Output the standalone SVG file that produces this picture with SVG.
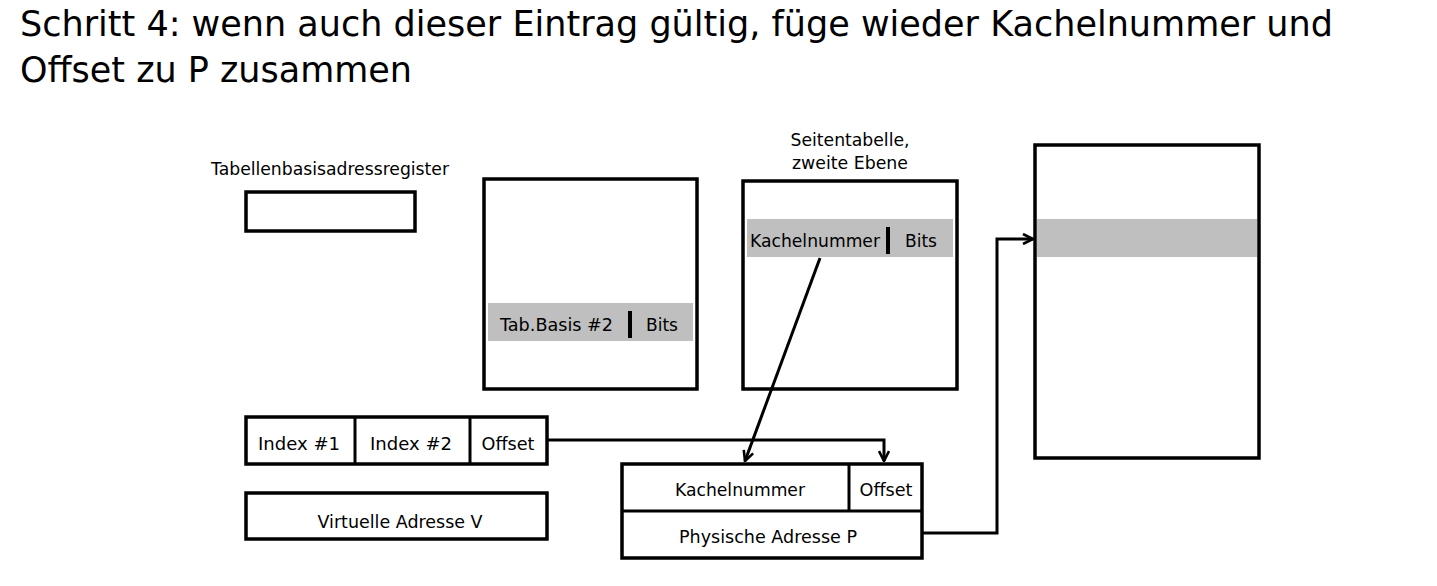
<svg xmlns="http://www.w3.org/2000/svg" width="1437" height="586" viewBox="0 0 1437 586">
<defs>
<marker id="arr" viewBox="0 0 12 12" refX="11" refY="6" markerWidth="12" markerHeight="12" markerUnits="userSpaceOnUse" orient="auto">
<path d="M1,1 L11,6 L1,11" fill="none" stroke="#000" stroke-width="2.6"/>
</marker>
<style>
.box{fill:#fff;stroke:#000;stroke-width:3.5}
.band{fill:#bfbfbf}
.t{font-family:"DejaVu Sans","Liberation Sans",sans-serif;font-size:18px;fill:#000}
.m{text-anchor:middle}
.title{font-family:"DejaVu Sans","Liberation Sans",sans-serif;font-size:36px;fill:#000}
.ln{fill:none;stroke:#000;stroke-width:3}
</style>
</defs>
<rect width="1437" height="586" fill="#fff"/>
<g id="title">
<text class="title" x="20" y="36" textLength="1313" lengthAdjust="spacingAndGlyphs">Schritt 4: wenn auch dieser Eintrag gültig, füge wieder Kachelnummer und</text>
<text class="title" x="20" y="82" textLength="392" lengthAdjust="spacingAndGlyphs">Offset zu P zusammen</text>
</g>
<g id="register">
<text class="t m" x="330" y="175" textLength="238" lengthAdjust="spacingAndGlyphs">Tabellenbasisadressregister</text>
<rect class="box" x="246" y="192" width="169" height="39"/>
</g>
<g id="table1">
<rect class="box" x="484" y="179" width="213" height="210"/>
<rect class="band" x="488" y="303" width="205" height="38"/>
<text class="t" x="500" y="331" textLength="113" lengthAdjust="spacingAndGlyphs">Tab.Basis #2</text>
<rect x="628" y="311" width="4" height="27" fill="#000"/>
<text class="t" x="646" y="331" textLength="32" lengthAdjust="spacingAndGlyphs">Bits</text>
</g>
<g id="table2">
<text class="t m" x="850" y="146" textLength="119" lengthAdjust="spacingAndGlyphs">Seitentabelle,</text>
<text class="t m" x="850" y="169" textLength="116" lengthAdjust="spacingAndGlyphs">zweite Ebene</text>
<rect class="box" x="743" y="181" width="214" height="208"/>
<rect class="band" x="747" y="219" width="206" height="38"/>
<text class="t" x="750" y="247" textLength="130" lengthAdjust="spacingAndGlyphs">Kachelnummer</text>
<rect x="886" y="227" width="4" height="27" fill="#000"/>
<text class="t" x="905" y="247" textLength="32" lengthAdjust="spacingAndGlyphs">Bits</text>
</g>
<g id="memory">
<rect class="box" x="1035" y="145" width="224" height="313"/>
<rect class="band" x="1037" y="219" width="220" height="38"/>
</g>
<g id="vaddr">
<rect class="box" x="246" y="417" width="301" height="47"/>
<line class="ln" x1="355" y1="417" x2="355" y2="464"/>
<line class="ln" x1="470" y1="417" x2="470" y2="464"/>
<text class="t m" x="299" y="450" textLength="82" lengthAdjust="spacingAndGlyphs">Index #1</text>
<text class="t m" x="411" y="450" textLength="82" lengthAdjust="spacingAndGlyphs">Index #2</text>
<text class="t m" x="508" y="450" textLength="53" lengthAdjust="spacingAndGlyphs">Offset</text>
</g>
<g id="vlabel">
<rect class="box" x="246" y="493" width="301" height="46"/>
<text class="t m" x="400" y="528" textLength="165" lengthAdjust="spacingAndGlyphs">Virtuelle Adresse V</text>
</g>
<g id="paddr">
<rect class="box" x="622" y="464" width="300" height="94"/>
<line class="ln" x1="622" y1="511" x2="922" y2="511"/>
<line class="ln" x1="849" y1="464" x2="849" y2="511"/>
<text class="t m" x="740" y="496" textLength="130" lengthAdjust="spacingAndGlyphs">Kachelnummer</text>
<text class="t m" x="886" y="496" textLength="53" lengthAdjust="spacingAndGlyphs">Offset</text>
<text class="t m" x="768" y="543" textLength="178" lengthAdjust="spacingAndGlyphs">Physische Adresse P</text>
</g>
<g id="connectors">
<line class="ln" x1="820" y1="258" x2="745" y2="461" marker-end="url(#arr)"/>
<polyline class="ln" points="548,440 884,440 884,461" marker-end="url(#arr)"/>
<polyline class="ln" points="922,533 997,533 997,239 1033,239" marker-end="url(#arr)"/>
</g>
</svg>
